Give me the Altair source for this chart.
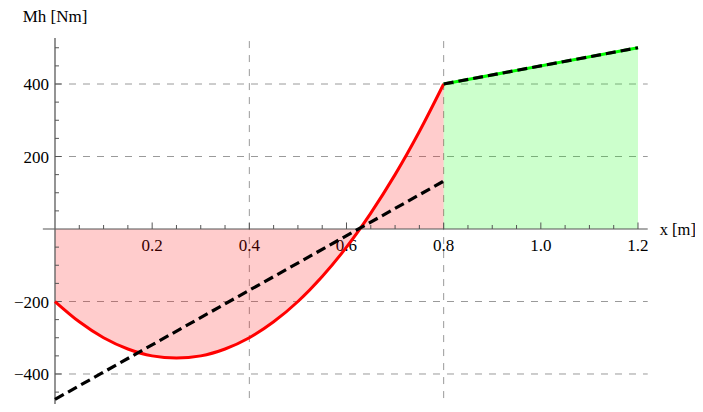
import altair as alt
import pandas as pd

# ---- data ----
curve_x = [0.0, 0.05, 0.1, 0.15, 0.2, 0.25, 0.3, 0.35, 0.4, 0.45, 0.5, 0.55, 0.6, 0.65, 0.7, 0.75, 0.8]
curve_y = [-200, -256, -300, -331, -350, -356, -350, -331, -300, -256, -200, -131, -50, 44, 150, 269, 400]
lin1_x = [0.0, 0.8]
lin1_y = [-470, 132]
seg2_x = [0.8, 1.2]
seg2_y = [400, 500]

xtick_vals = [0.2, 0.4, 0.6, 0.8, 1.0, 1.2]
xtick_labels = ["0.2", "0.4", "0.6", "0.8", "1.0", "1.2"]
ytick_vals = [-400, -200, 200, 400]
ytick_labels = ["\u2212400", "\u2212200", "200", "400"]
x_minor = [0.05, 0.1, 0.15, 0.25, 0.3, 0.35, 0.45, 0.5, 0.55, 0.65, 0.7, 0.75,
           0.85, 0.9, 0.95, 1.05, 1.1, 1.15]
y_minor = [-500, -450, -350, -300, -250, -150, -100, -50, 50, 100, 150, 250, 300, 350, 450, 500]
xgrid = [0.4, 0.8]
ygrid = [-400, -200, 200, 400]

X_AXIS_MIN, X_AXIS_MAX = -0.025, 1.22
Y_AXIS_MIN, Y_AXIS_MAX = -505, 527

FONT = "Liberation Serif"
FS = 17

xs = alt.Scale(domain=[-0.09674, 1.31733], nice=False, zero=False)
ys = alt.Scale(domain=[-482.76, 609.66], nice=False, zero=False)

def X(f):
    return alt.X(f, type="quantitative", scale=xs, axis=None)

def Y(f):
    return alt.Y(f, type="quantitative", scale=ys, axis=None)

curve = pd.DataFrame({"x": curve_x, "y": curve_y, "z": 0})
lin1 = pd.DataFrame({"x": lin1_x, "y": lin1_y})
seg2 = pd.DataFrame({"x": seg2_x, "y": seg2_y, "z": 0})

# grid
vgrid = alt.Chart(pd.DataFrame({"x": xgrid, "y0": Y_AXIS_MIN, "y1": Y_AXIS_MAX})).mark_rule(
    color="#9a9a9a", strokeWidth=1, strokeDash=[7, 7], clip=True
).encode(x=X("x"), y=Y("y0"), y2="y1")
hgrid = alt.Chart(pd.DataFrame({"y": ygrid, "x0": 0.0, "x1": X_AXIS_MAX})).mark_rule(
    color="#9a9a9a", strokeWidth=1, strokeDash=[7, 7]
).encode(y=Y("y"), x=X("x0"), x2="x1")

# tick labels
xlab = alt.Chart(pd.DataFrame({"x": xtick_vals, "t": xtick_labels, "y": 0})).mark_text(
    font=FONT, fontSize=FS, align="center", baseline="alphabetic", dy=22, color="black"
).encode(x=X("x"), y=Y("y"), text="t:N")
ylab = alt.Chart(pd.DataFrame({"y": ytick_vals, "t": ytick_labels, "x": 0.0})).mark_text(
    font=FONT, fontSize=FS, align="right", baseline="middle", dx=-6, dy=1, color="black"
).encode(x=X("x"), y=Y("y"), text="t:N")

# fills
red_fill = alt.Chart(curve).mark_area(color="#ff0000", opacity=0.2, interpolate="monotone").encode(
    x=X("x"), y=Y("y"), y2="z"
)
green_fill = alt.Chart(seg2).mark_area(color="#00ff00", opacity=0.2).encode(
    x=X("x"), y=Y("y"), y2="z"
)

# axes
xaxis = alt.Chart(pd.DataFrame({"x0": [X_AXIS_MIN], "x1": [X_AXIS_MAX], "y": [0]})).mark_rule(
    color="#555555", strokeWidth=1.2
).encode(x=X("x0"), x2="x1", y=Y("y"))
yaxis = alt.Chart(pd.DataFrame({"y0": [Y_AXIS_MIN], "y1": [Y_AXIS_MAX], "x": [0.0]})).mark_rule(
    color="#666666", strokeWidth=1.4, clip=True
).encode(y=Y("y0"), y2="y1", x=X("x"))

XT_MAJ, XT_MIN = 18, 11        # tick length in y data units
YT_MAJ, YT_MIN = 0.0134, 0.0082  # tick length in x data units

xt_major = alt.Chart(pd.DataFrame({"x": xtick_vals, "y0": 0, "y1": XT_MAJ})).mark_rule(
    color="#555555", strokeWidth=1).encode(x=X("x"), y=Y("y0"), y2="y1")
xt_minor = alt.Chart(pd.DataFrame({"x": x_minor, "y0": 0, "y1": XT_MIN})).mark_rule(
    color="#555555", strokeWidth=1).encode(x=X("x"), y=Y("y0"), y2="y1")
yt_major = alt.Chart(pd.DataFrame({"y": ytick_vals, "x0": 0.0, "x1": YT_MAJ})).mark_rule(
    color="#555555", strokeWidth=1).encode(y=Y("y"), x=X("x0"), x2="x1")
yt_minor = alt.Chart(pd.DataFrame({"y": y_minor, "x0": 0.0, "x1": YT_MIN})).mark_rule(
    color="#555555", strokeWidth=1, clip=True).encode(y=Y("y"), x=X("x0"), x2="x1")

# curves
red_line = alt.Chart(curve).mark_line(color="#ff0000", strokeWidth=3, interpolate="monotone").encode(
    x=X("x"), y=Y("y"))
green_line = alt.Chart(seg2).mark_line(color="#00ff00", strokeWidth=3).encode(x=X("x"), y=Y("y"))
dash1 = alt.Chart(lin1).mark_line(color="black", strokeWidth=3.2, strokeDash=[10, 5]).encode(
    x=X("x"), y=Y("y"))
dash2 = alt.Chart(seg2).mark_line(color="black", strokeWidth=3.2, strokeDash=[10, 5]).encode(
    x=X("x"), y=Y("y"))

# axis titles
ytitle = alt.Chart(pd.DataFrame({"x": [0.0], "y": [Y_AXIS_MAX], "t": ["Mh [Nm]"]})).mark_text(
    font=FONT, fontSize=FS, align="center", baseline="alphabetic", dy=-16, color="black"
).encode(x=X("x"), y=Y("y"), text="t:N")
xtitle = alt.Chart(pd.DataFrame({"x": [X_AXIS_MAX], "y": [0], "t": ["x [m]"]})).mark_text(
    font=FONT, fontSize=16.5, align="left", baseline="middle", dx=12, dy=1, color="black"
).encode(x=X("x"), y=Y("y"), text="t:N")

chart = alt.layer(
    vgrid, hgrid, xlab, ylab, red_fill, green_fill,
    xaxis, yaxis, xt_major, xt_minor, yt_major, yt_minor,
    red_line, green_line, dash1, dash2, ytitle, xtitle
).properties(
    width=687, height=396, padding=0, autosize=alt.AutoSizeParams(type="none"), background="white"
).configure_view(stroke=None)

chart.save("out.html", embed_options={"renderer": "svg", "actions": False})
